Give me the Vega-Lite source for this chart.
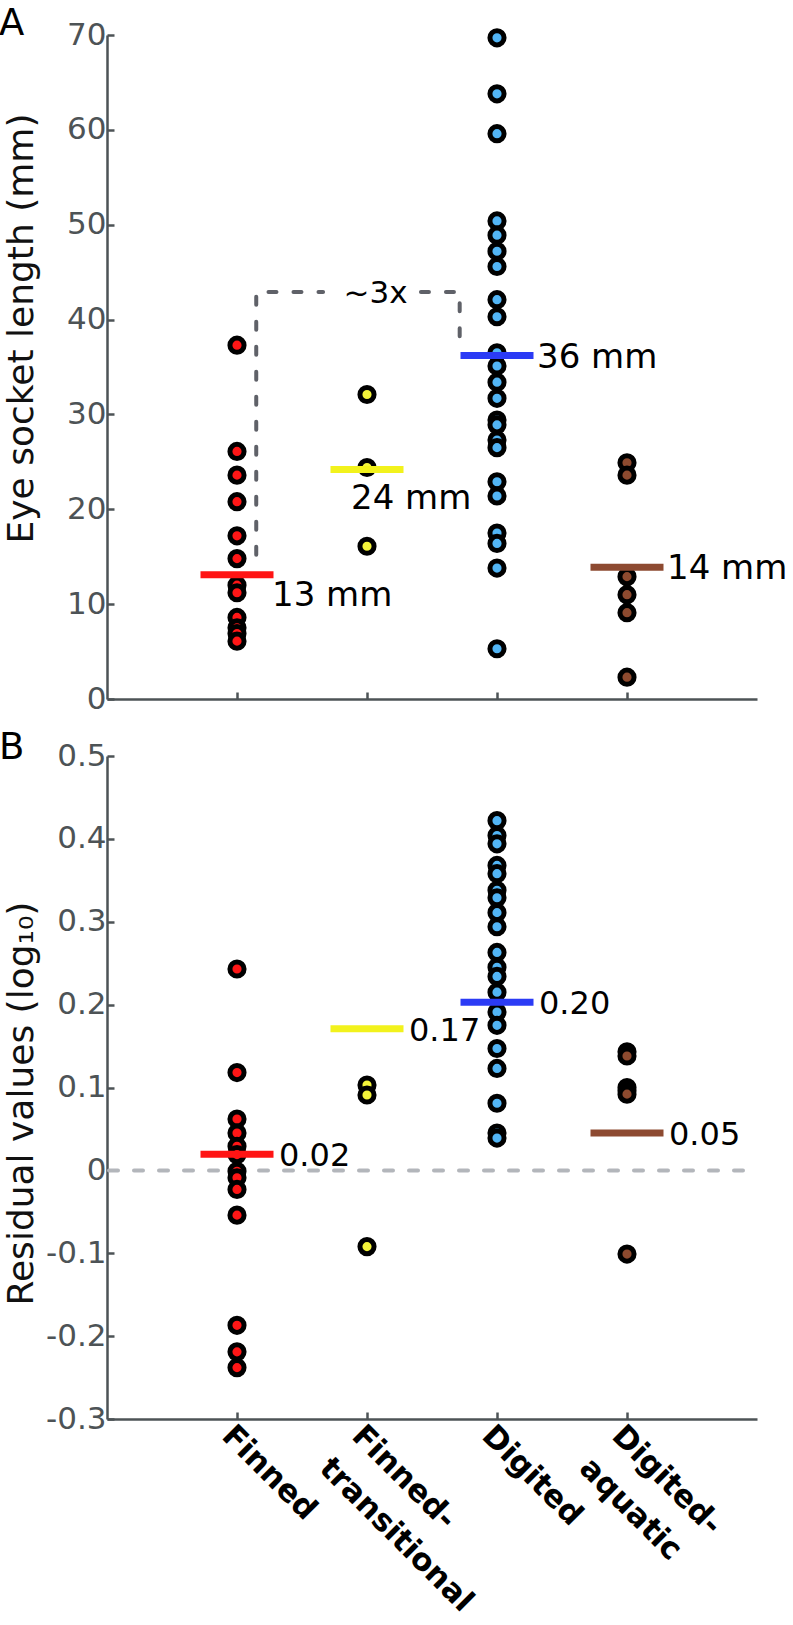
{
  "$schema": "https://vega.github.io/schema/vega-lite/v6.json",
  "background": "white",
  "padding": {"left": -2, "top": 5, "right": 0, "bottom": 0},
  "config": {
    "font": "DejaVu Sans",
    "view": {"stroke": null},
    "axis": {
      "domainColor": "#4d5356", "domainWidth": 2.5,
      "tickColor": "#4d5356", "tickWidth": 2.5, "tickSize": -7,
      "grid": false,
      "labelColor": "#4d5356", "labelFont": "DejaVu Sans", "labelFontSize": 31, "labelLimit": 0,
      "titleFont": "DejaVu Sans", "titleFontSize": 36, "titleFontWeight": "normal", "titleColor": "#111111"
    }
  },
  "datasets": {
    "one": [{}],
    "eye": [
      {"group": "Finned", "g": 1, "v": 37.3}, {"group": "Finned", "g": 1, "v": 26.1}, {"group": "Finned", "g": 1, "v": 23.6},
      {"group": "Finned", "g": 1, "v": 20.8}, {"group": "Finned", "g": 1, "v": 17.2}, {"group": "Finned", "g": 1, "v": 14.8},
      {"group": "Finned", "g": 1, "v": 12.0}, {"group": "Finned", "g": 1, "v": 11.2}, {"group": "Finned", "g": 1, "v": 8.6},
      {"group": "Finned", "g": 1, "v": 7.5}, {"group": "Finned", "g": 1, "v": 6.9}, {"group": "Finned", "g": 1, "v": 6.1},
      {"group": "Finned-transitional", "g": 2, "v": 32.1}, {"group": "Finned-transitional", "g": 2, "v": 24.4}, {"group": "Finned-transitional", "g": 2, "v": 16.1},
      {"group": "Digited", "g": 3, "v": 69.7}, {"group": "Digited", "g": 3, "v": 63.8}, {"group": "Digited", "g": 3, "v": 59.6},
      {"group": "Digited", "g": 3, "v": 50.4}, {"group": "Digited", "g": 3, "v": 48.9}, {"group": "Digited", "g": 3, "v": 47.2},
      {"group": "Digited", "g": 3, "v": 45.6}, {"group": "Digited", "g": 3, "v": 42.1}, {"group": "Digited", "g": 3, "v": 40.3},
      {"group": "Digited", "g": 3, "v": 36.5}, {"group": "Digited", "g": 3, "v": 35.1}, {"group": "Digited", "g": 3, "v": 33.4},
      {"group": "Digited", "g": 3, "v": 31.7}, {"group": "Digited", "g": 3, "v": 29.4}, {"group": "Digited", "g": 3, "v": 28.9},
      {"group": "Digited", "g": 3, "v": 27.3}, {"group": "Digited", "g": 3, "v": 26.5}, {"group": "Digited", "g": 3, "v": 22.9},
      {"group": "Digited", "g": 3, "v": 21.4}, {"group": "Digited", "g": 3, "v": 17.5}, {"group": "Digited", "g": 3, "v": 16.4},
      {"group": "Digited", "g": 3, "v": 13.8}, {"group": "Digited", "g": 3, "v": 5.3},
      {"group": "Digited-aquatic", "g": 4, "v": 24.9}, {"group": "Digited-aquatic", "g": 4, "v": 23.6}, {"group": "Digited-aquatic", "g": 4, "v": 12.9},
      {"group": "Digited-aquatic", "g": 4, "v": 11.0}, {"group": "Digited-aquatic", "g": 4, "v": 9.1}, {"group": "Digited-aquatic", "g": 4, "v": 2.3}
    ],
    "eyeMean": [
      {"group": "Finned", "g": 1, "v": 13.1, "label": "13 mm"},
      {"group": "Finned-transitional", "g": 2, "v": 24.2, "label": "24 mm"},
      {"group": "Digited", "g": 3, "v": 36.2, "label": "36 mm"},
      {"group": "Digited-aquatic", "g": 4, "v": 13.9, "label": "14 mm"}
    ],
    "bracket": [
      {"seg": "L", "i": 0, "g": 1.148, "v": 15.2}, {"seg": "L", "i": 1, "g": 1.148, "v": 42.9}, {"seg": "L", "i": 2, "g": 1.662, "v": 42.9},
      {"seg": "R", "i": 0, "g": 2.415, "v": 42.9}, {"seg": "R", "i": 1, "g": 2.713, "v": 42.9}, {"seg": "R", "i": 2, "g": 2.713, "v": 37.85}
    ],
    "resid": [
      {"group": "Finned", "g": 1, "v": 0.243}, {"group": "Finned", "g": 1, "v": 0.118}, {"group": "Finned", "g": 1, "v": 0.062},
      {"group": "Finned", "g": 1, "v": 0.045}, {"group": "Finned", "g": 1, "v": 0.029}, {"group": "Finned", "g": 1, "v": 0.019},
      {"group": "Finned", "g": 1, "v": -0.001}, {"group": "Finned", "g": 1, "v": -0.009}, {"group": "Finned", "g": 1, "v": -0.023},
      {"group": "Finned", "g": 1, "v": -0.054}, {"group": "Finned", "g": 1, "v": -0.187}, {"group": "Finned", "g": 1, "v": -0.219},
      {"group": "Finned", "g": 1, "v": -0.238},
      {"group": "Finned-transitional", "g": 2, "v": 0.103}, {"group": "Finned-transitional", "g": 2, "v": 0.091}, {"group": "Finned-transitional", "g": 2, "v": -0.092},
      {"group": "Digited", "g": 3, "v": 0.422}, {"group": "Digited", "g": 3, "v": 0.404}, {"group": "Digited", "g": 3, "v": 0.394},
      {"group": "Digited", "g": 3, "v": 0.368}, {"group": "Digited", "g": 3, "v": 0.358}, {"group": "Digited", "g": 3, "v": 0.338},
      {"group": "Digited", "g": 3, "v": 0.329}, {"group": "Digited", "g": 3, "v": 0.311}, {"group": "Digited", "g": 3, "v": 0.294},
      {"group": "Digited", "g": 3, "v": 0.263}, {"group": "Digited", "g": 3, "v": 0.245}, {"group": "Digited", "g": 3, "v": 0.234},
      {"group": "Digited", "g": 3, "v": 0.215}, {"group": "Digited", "g": 3, "v": 0.191}, {"group": "Digited", "g": 3, "v": 0.175},
      {"group": "Digited", "g": 3, "v": 0.147}, {"group": "Digited", "g": 3, "v": 0.123}, {"group": "Digited", "g": 3, "v": 0.081},
      {"group": "Digited", "g": 3, "v": 0.045}, {"group": "Digited", "g": 3, "v": 0.039},
      {"group": "Digited-aquatic", "g": 4, "v": 0.143}, {"group": "Digited-aquatic", "g": 4, "v": 0.138}, {"group": "Digited-aquatic", "g": 4, "v": 0.100},
      {"group": "Digited-aquatic", "g": 4, "v": 0.096}, {"group": "Digited-aquatic", "g": 4, "v": 0.092}, {"group": "Digited-aquatic", "g": 4, "v": -0.101}
    ],
    "residMean": [
      {"group": "Finned", "g": 1, "v": 0.0196, "label": "0.02"},
      {"group": "Finned-transitional", "g": 2, "v": 0.171, "label": "0.17"},
      {"group": "Digited", "g": 3, "v": 0.203, "label": "0.20"},
      {"group": "Digited-aquatic", "g": 4, "v": 0.045, "label": "0.05"}
    ]
  },
  "spacing": 57,
  "bounds": "flush",
  "vconcat": [
    {
      "width": 650,
      "height": 664,
      "layer": [
        {
          "data": {"name": "eye"},
          "mark": {"type": "point", "shape": "circle", "filled": true, "size": 200, "stroke": "black", "strokeWidth": 5, "opacity": 1},
          "encoding": {
            "x": {"field": "g", "type": "quantitative", "scale": {"domain": [0, 5], "nice": false, "zero": false},
                  "axis": {"values": [1, 2, 3, 4], "labels": false, "title": null}},
            "y": {"field": "v", "type": "quantitative", "scale": {"domain": [0, 70], "nice": false},
                  "axis": {"values": [0, 10, 20, 30, 40, 50, 60, 70], "format": "d", "labelPadding": 8,
                           "title": "Eye socket length (mm)", "titleX": -75, "titleY": 293, "titleBaseline": "alphabetic"}},
            "fill": {"field": "group", "type": "nominal", "legend": null,
                     "scale": {"domain": ["Finned", "Finned-transitional", "Digited", "Digited-aquatic"], "range": ["#ff1616", "#f4f43a", "#52b5f5", "#8d4a2f"]}}
          }
        },
        {
          "data": {"name": "bracket"},
          "mark": {"type": "line", "stroke": "#5f6168", "strokeWidth": 4, "strokeDash": [8, 17], "strokeCap": "round"},
          "encoding": {
            "x": {"field": "g", "type": "quantitative"},
            "y": {"field": "v", "type": "quantitative"},
            "detail": {"field": "seg"},
            "order": {"field": "i"}
          }
        },
        {
          "data": {"name": "eyeMean"},
          "mark": {"type": "tick", "orient": "horizontal", "size": 73, "thickness": 7, "opacity": 1},
          "encoding": {
            "x": {"field": "g", "type": "quantitative"},
            "y": {"field": "v", "type": "quantitative"},
            "color": {"field": "group", "type": "nominal", "legend": null,
                      "scale": {"domain": ["Finned", "Finned-transitional", "Digited", "Digited-aquatic"], "range": ["#ff1414", "#f2f21c", "#2b3bf5", "#8d4a31"]}}
          }
        },
        {
          "data": {"name": "eyeMean"},
          "transform": [{"filter": "datum.g >= 3"}],
          "mark": {"type": "text", "align": "left", "baseline": "middle", "fontSize": 34, "dx": 40, "dy": 2, "color": "black"},
          "encoding": {
            "x": {"field": "g", "type": "quantitative"},
            "y": {"field": "v", "type": "quantitative"},
            "text": {"field": "label"}
          }
        },
        {
          "data": {"name": "eyeMean"},
          "transform": [{"filter": "datum.g == 1"}],
          "mark": {"type": "text", "align": "left", "baseline": "middle", "fontSize": 34, "dx": 35, "dy": 21, "color": "black"},
          "encoding": {
            "x": {"field": "g", "type": "quantitative"},
            "y": {"field": "v", "type": "quantitative"},
            "text": {"field": "label"}
          }
        },
        {
          "data": {"name": "eyeMean"},
          "transform": [{"filter": "datum.g == 2"}],
          "mark": {"type": "text", "align": "left", "baseline": "middle", "fontSize": 34, "dx": -16, "dy": 30, "color": "black"},
          "encoding": {
            "x": {"field": "g", "type": "quantitative"},
            "y": {"field": "v", "type": "quantitative"},
            "text": {"field": "label"}
          }
        },
        {
          "data": {"name": "one"},
          "mark": {"type": "text", "align": "center", "baseline": "middle", "fontSize": 31, "color": "black", "dy": 2},
          "encoding": {
            "x": {"datum": 2.065, "type": "quantitative"},
            "y": {"datum": 42.9, "type": "quantitative"},
            "text": {"value": "~3x"}
          }
        },
        {
          "data": {"name": "one"},
          "mark": {"type": "text", "align": "left", "baseline": "alphabetic", "fontSize": 37, "color": "black"},
          "encoding": {
            "x": {"datum": -0.831, "type": "quantitative"},
            "y": {"datum": 70, "type": "quantitative"},
            "text": {"value": "A"}
          }
        }
      ]
    },
    {
      "width": 650,
      "height": 663,
      "layer": [
        {
          "data": {"name": "one"},
          "mark": {"type": "rule", "stroke": "#b3b6bb", "strokeWidth": 4, "strokeDash": [9, 16], "strokeCap": "round", "strokeDashOffset": 11},
          "encoding": {"y": {"datum": 0, "type": "quantitative"}}
        },
        {
          "data": {"name": "resid"},
          "mark": {"type": "point", "shape": "circle", "filled": true, "size": 200, "stroke": "black", "strokeWidth": 5, "opacity": 1},
          "encoding": {
            "x": {"field": "g", "type": "quantitative", "scale": {"domain": [0, 5], "nice": false, "zero": false},
                  "axis": {"values": [1, 2, 3, 4], "title": null, "labelAngle": 45, "labelAlign": "left", "labelBaseline": "top",
                           "labelPadding": 8, "labelFontWeight": "bold", "labelColor": "black", "labelFontSize": 31, "labelLineHeight": 46,
                           "labelOverlap": false, "labelFlush": false, "labelLimit": 0,
                           "labelExpr": "datum.value == 1 ? 'Finned' : datum.value == 2 ? ['Finned-', 'transitional'] : datum.value == 3 ? 'Digited' : ['Digited-', 'aquatic']"}},
            "y": {"field": "v", "type": "quantitative", "scale": {"domain": [-0.3, 0.5], "nice": false, "zero": false},
                  "axis": {"values": [-0.3, -0.2, -0.1, 0, 0.1, 0.2, 0.3, 0.4, 0.5], "labelPadding": 8,
                           "labelExpr": "datum.value == 0 ? '0' : replace(format(datum.value, '.1f'), '\u2212', '-')",
                           "title": "Residual values (log\u2081\u2080)", "titleX": -75, "titleY": 347, "titleBaseline": "alphabetic"}},
            "fill": {"field": "group", "type": "nominal", "legend": null,
                     "scale": {"domain": ["Finned", "Finned-transitional", "Digited", "Digited-aquatic"], "range": ["#ff1616", "#f4f43a", "#52b5f5", "#8d4a2f"]}}
          }
        },
        {
          "data": {"name": "residMean"},
          "mark": {"type": "tick", "orient": "horizontal", "size": 73, "thickness": 7, "opacity": 1},
          "encoding": {
            "x": {"field": "g", "type": "quantitative"},
            "y": {"field": "v", "type": "quantitative"},
            "color": {"field": "group", "type": "nominal", "legend": null,
                      "scale": {"domain": ["Finned", "Finned-transitional", "Digited", "Digited-aquatic"], "range": ["#ff1414", "#f2f21c", "#2b3bf5", "#8d4a31"]}}
          }
        },
        {
          "data": {"name": "residMean"},
          "mark": {"type": "text", "align": "left", "baseline": "middle", "fontSize": 32, "dx": 42, "dy": 2, "color": "black"},
          "encoding": {
            "x": {"field": "g", "type": "quantitative"},
            "y": {"field": "v", "type": "quantitative"},
            "text": {"field": "label"}
          }
        },
        {
          "data": {"name": "one"},
          "mark": {"type": "text", "align": "left", "baseline": "alphabetic", "fontSize": 37, "color": "black"},
          "encoding": {
            "x": {"datum": -0.831, "type": "quantitative"},
            "y": {"datum": 0.496, "type": "quantitative"},
            "text": {"value": "B"}
          }
        }
      ]
    }
  ]
}
